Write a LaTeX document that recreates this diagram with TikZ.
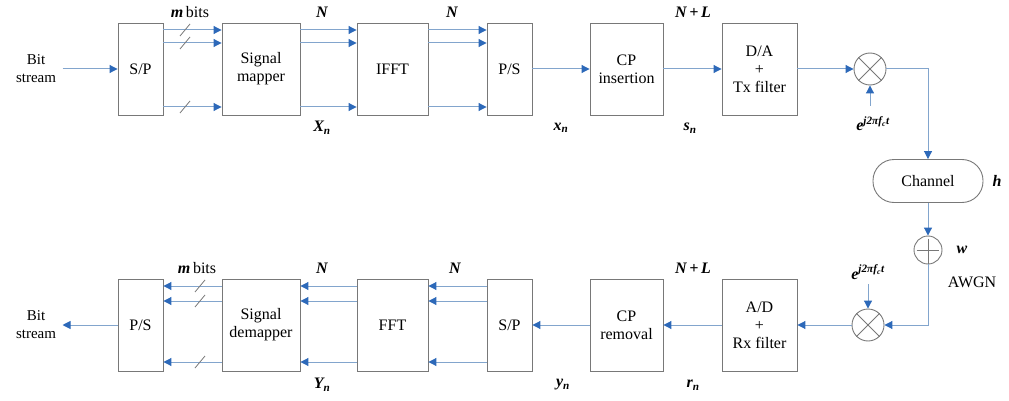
\documentclass[tikz,border=0pt]{standalone}
\usepackage{fontspec}
\setmainfont{Liberation Serif}
\usetikzlibrary{arrows.meta}
\definecolor{arr}{RGB}{45,105,185}
\definecolor{ln}{RGB}{130,165,205}
\definecolor{bx}{RGB}{120,120,120}
\tikzset{
  blk/.style={draw=bx, line width=0.9pt, minimum width=#1, minimum height=92pt, inner sep=0pt, align=center, font=\fontsize{16}{18}\selectfont},
  blk/.default=45pt,
  flow/.style={draw=ln, line width=1pt, -{Triangle[length=8pt,width=8pt,fill=arr,color=arr]}},
  slash/.style={draw=bx, line width=0.8pt},
  mix/.style={draw=bx, line width=0.9pt, circle, minimum size=32pt, inner sep=0pt},
  lbl/.style={font=\fontsize{16}{18}\selectfont, align=center},
  slbl/.style={font=\fontsize{15}{18}\selectfont, align=center},
  ilbl/.style={font=\fontsize{16}{18}\selectfont\bfseries\itshape},
}
\begin{document}
\begin{tikzpicture}[x=1pt,y=-1pt]
\useasboundingbox (0,0) rectangle (1009,401);
% ---------- top row ----------
\node[slbl] (bsin) at (36,69) {Bit\\stream};
\node[blk=45pt] (sp1) at (140.5,69) {S/P};
\node[blk=78pt] (map) at (261,69) {Signal\\mapper};
\node[blk=71pt] (ifft) at (392.5,69) {IFFT};
\node[blk=45pt] (ps1) at (509.5,69) {P/S};
\node[blk=73pt] (cpi) at (626.5,69) {CP\\insertion};
\node[blk=75pt] (da) at (759.5,69) {D/A\\+\\Tx filter};
\node[mix] (mx1) at (870,69) {};
\draw[bx, line width=0.9pt] (mx1.north west) -- (mx1.south east) (mx1.north east) -- (mx1.south west);
\coordinate (lo1) at (870,106);

\draw[flow] ([xshift=3pt]bsin.east) -- (sp1.west);
\foreach \yy in {30,43,107}{
  \draw[flow] (sp1.east |- 0,\yy) -- (map.west |- 0,\yy);
  \draw[flow] (map.east |- 0,\yy) -- (ifft.west |- 0,\yy);
  \draw[flow] (ifft.east |- 0,\yy) -- (ps1.west |- 0,\yy);
  \draw[slash] (180,\yy+6) -- (190,\yy-6);
}
\draw[flow] (ps1.east) -- (cpi.west);
\draw[flow] (cpi.east) -- (da.west);
\draw[flow] (da.east) -- (mx1.west);
\draw[flow] (lo1) -- (mx1.south);

\node[ilbl] (mb1) at (190,12) {m\,\normalfont bits};
\node[ilbl] (n1) at (322,12) {N};
\node[ilbl] (n2) at (452,12) {N};
\node[ilbl] (nl1) at (693,12) {N\,+\,L};
\node[ilbl] (xk) at (322,128) {X\textsubscript{\itshape n}};
\node[ilbl] (xn) at (561,128) {x\textsubscript{\itshape n}};
\node[ilbl] (sn) at (690,128) {s\textsubscript{\itshape n}};
\node[ilbl] (ex1) at (873,124) {e\textsuperscript{\itshape j2πf\textsubscript{c}t}};

% ---------- channel ----------
\node[draw=bx, line width=0.9pt, rounded corners=21pt, minimum width=110pt, minimum height=43pt, lbl] (ch) at (928,181) {Channel};
\node[ilbl] (h) at (997,181) {h};
\node[draw=bx, line width=0.9pt, circle, minimum size=28pt, inner sep=0pt] (add) at (928,250) {};
\draw[bx, line width=0.9pt] (add.north) ++(0,3) -- ([yshift=-3pt]add.south) (add.west) ++(3,0) -- ([xshift=-3pt]add.east);
\node[ilbl] (w) at (962,250) {w};
\node[lbl] (awgn) at (972,282) {AWGN};
\draw[flow] (mx1.east) -| (ch.north);
\draw[flow] (ch.south) -- (add.north);

% ---------- bottom row ----------
\node[mix] (mx2) at (868,325) {};
\draw[bx, line width=0.9pt] (mx2.north west) -- (mx2.south east) (mx2.north east) -- (mx2.south west);
\coordinate (lo2) at (868,284);
\node[blk=75pt] (ad) at (759.5,325) {A/D\\+\\Rx filter};
\node[blk=73pt] (cpr) at (626.5,325) {CP\\removal};
\node[blk=45pt] (sp2) at (509.5,325) {S/P};
\node[blk=71pt] (fft) at (392.5,325) {FFT};
\node[blk=78pt] (dmap) at (261,325) {Signal\\demapper};
\node[blk=45pt] (ps2) at (140.5,325) {P/S};
\node[slbl] (bsout) at (36,325) {Bit\\stream};

\draw[flow] (add.south) |- (mx2.east);
\draw[flow] (lo2) -- (mx2.north);
\draw[flow] (mx2.west) -- (ad.east);
\draw[flow] (ad.west) -- (cpr.east);
\draw[flow] (cpr.west) -- (sp2.east);
\foreach \yy in {286,301,362}{
  \draw[flow] (sp2.west |- 0,\yy) -- (fft.east |- 0,\yy);
  \draw[flow] (fft.west |- 0,\yy) -- (dmap.east |- 0,\yy);
  \draw[flow] (dmap.west |- 0,\yy) -- (ps2.east |- 0,\yy);
  \draw[slash] (195,\yy+6) -- (205,\yy-6);
}
\draw[flow] (ps2.west) -- ([xshift=3pt]bsout.east);

\node[ilbl] (mb2) at (197,268) {m\,\normalfont bits};
\node[ilbl] (n3) at (322,268) {N};
\node[ilbl] (n4) at (455,268) {N};
\node[ilbl] (nl2) at (693,268) {N\,+\,L};
\node[ilbl] (yk) at (322,385) {Y\textsubscript{\itshape n}};
\node[ilbl] (yn) at (563,385) {y\textsubscript{\itshape n}};
\node[ilbl] (rn) at (693,385) {r\textsubscript{\itshape n}};
\node[ilbl] (ex2) at (868,272) {e\textsuperscript{\itshape j2πf\textsubscript{c}t}};
\end{tikzpicture}
\end{document}
